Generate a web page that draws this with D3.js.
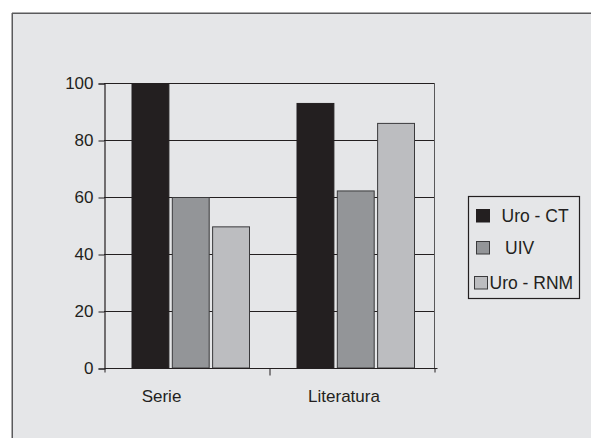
<!DOCTYPE html>
<html>
<head>
<meta charset="utf-8">
<script src="https://cdn.jsdelivr.net/npm/d3@7/dist/d3.min.js"></script>
<style>
  html, body { margin: 0; padding: 0; background: #ffffff; }
  svg { display: block; }
  text { font-family: "Liberation Sans", Arial, sans-serif; fill: #231f20; }
</style>
</head>
<body>
<svg id="chart" width="591" height="438"></svg>
<script>
// Categories, series and values
const categories = ["Serie", "Literatura"];
const seriesNames = ["Uro - CT", "UIV", "Uro - RNM"];
const uroCT = [100, 93];
const uiv = [60, 62.3];
const uroRNM = [49.7, 86];
const yTicks = [0, 20, 40, 60, 80, 100];

const seriesValues = [uroCT, uiv, uroRNM];
const colors = ["#231f20", "#939598", "#bcbdc0"];
const strokes = ["#231f20", "#3a3a3c", "#3a3a3c"];

const svg = d3.select("#chart");
const W = 591, H = 438;

// Panel background with its left and top edges
svg.append("rect").attr("x", 12).attr("y", 13).attr("width", W - 12).attr("height", H - 13)
  .attr("fill", "#e5e6e8");
svg.append("line").attr("x1", 12).attr("x2", W).attr("y1", 13.25).attr("y2", 13.25)
  .attr("stroke", "#5a5a5c").attr("stroke-width", 1.5);
svg.append("line").attr("x1", 12.25).attr("x2", 12.25).attr("y1", 13).attr("y2", H)
  .attr("stroke", "#5a5a5c").attr("stroke-width", 1.5);

// Plot area
const plot = { left: 104, right: 434, top: 83, bottom: 368 };

const x0 = d3.scaleBand().domain(categories).range([plot.left, plot.right]).padding(0);
const x1 = d3.scaleBand().domain(seriesNames)
  .range([27.5, 146]).paddingInner(0.06).paddingOuter(0);
const y = d3.scaleLinear().domain([0, 100]).range([plot.bottom, plot.top]);

// Horizontal grid lines
svg.append("g").selectAll("line").data(yTicks.filter(t => t > 0)).join("line")
  .attr("x1", plot.left).attr("x2", plot.right)
  .attr("y1", d => Math.round(y(d)) + 0.5).attr("y2", d => Math.round(y(d)) + 0.5)
  .attr("stroke", "#231f20").attr("stroke-width", 1);

// Right edge of plot area
svg.append("line")
  .attr("x1", plot.right + 0.5).attr("x2", plot.right + 0.5)
  .attr("y1", plot.top).attr("y2", plot.bottom)
  .attr("stroke", "#58585a").attr("stroke-width", 1);

// Bars
const groups = svg.append("g").selectAll("g").data(categories).join("g")
  .attr("transform", d => `translate(${x0(d)},0)`);
groups.selectAll("rect")
  .data((c, ci) => seriesNames.map((s, si) => ({ s, si, v: seriesValues[si][ci] })))
  .join("rect")
  .attr("x", d => x1(d.s) + 0.5)
  .attr("y", d => y(d.v) + 0.5)
  .attr("width", x1.bandwidth() - 1)
  .attr("height", d => y(0) - y(d.v) - 0.5)
  .attr("fill", d => colors[d.si])
  .attr("stroke", d => strokes[d.si])
  .attr("stroke-width", 1);

// Y axis
const yAxis = d3.axisLeft(y).tickValues(yTicks).tickSize(6).tickPadding(5);
const gy = svg.append("g").attr("transform", `translate(${plot.left + 0.5},0.5)`).call(yAxis);
gy.select(".domain").attr("stroke", "#231f20").attr("stroke-width", 1.2);
gy.selectAll(".tick line").attr("stroke", "#231f20");
gy.selectAll("text").attr("font-size", 17).attr("fill", "#231f20")
  .attr("font-family", "Liberation Sans, Arial, sans-serif");

// X axis with ticks at category boundaries
const xAxisLine = d3.axisBottom(d3.scaleLinear().domain([0, 2]).range([plot.left, plot.right]))
  .tickValues([0, 1, 2]).tickSize(7).tickFormat("");
const gx = svg.append("g").attr("transform", `translate(0.5,${plot.bottom + 0.5})`).call(xAxisLine);
gx.select(".domain").attr("stroke", "#231f20").attr("stroke-width", 1.2).attr("d", `M${plot.left},0H${plot.right + 3}`);
gx.selectAll(".tick line").attr("stroke", "#231f20");
gx.selectAll(".tick").filter(d => d !== 1).select("line").attr("y2", 4);

// Category labels
const labelShift = [-25, -7.5];
const xLabels = d3.axisBottom(x0).tickSize(0).tickPadding(0);
const gl = svg.append("g").attr("transform", `translate(0,${plot.bottom + 22})`).call(xLabels);
gl.select(".domain").remove();
gl.selectAll("text").attr("font-size", 17).attr("fill", "#231f20")
  .attr("font-family", "Liberation Sans, Arial, sans-serif")
  .attr("dx", (d, i) => labelShift[i]);

// Legend
const legend = svg.append("g");
legend.append("rect").attr("x", 468.5).attr("y", 196.5).attr("width", 111).attr("height", 102)
  .attr("fill", "#e5e6e8").attr("stroke", "#231f20").attr("stroke-width", 1.2);
const swatchX = [476.5, 476.5, 474.5];
const textX = [501.5, 505, 489.5];
const rowY = [209.5, 241.5, 276.5];
const items = legend.selectAll("g.item").data(seriesNames).join("g").attr("class", "item");
items.append("rect")
  .attr("x", (d, i) => swatchX[i]).attr("y", (d, i) => rowY[i])
  .attr("width", 13).attr("height", 12.5)
  .attr("fill", (d, i) => colors[i]).attr("stroke", (d, i) => strokes[i]).attr("stroke-width", 1);
items.append("text")
  .attr("x", (d, i) => textX[i]).attr("y", (d, i) => rowY[i] + 12.5)
  .attr("font-size", 17.5)
  .text(d => d);
</script>
</body>
</html>
